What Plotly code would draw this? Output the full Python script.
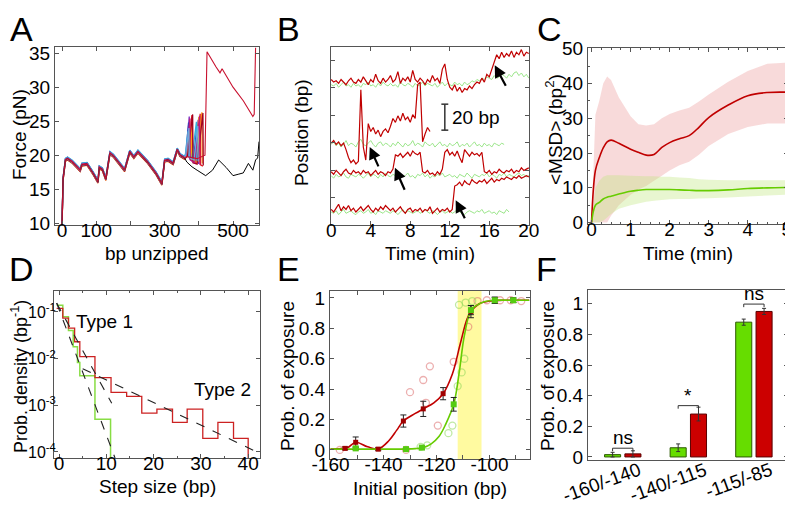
import plotly.graph_objects as go

W, H = 793, 514
OFF = 8  # the page body margin shifts the whole figure by 8 px
FONT = "Liberation Sans, Arial, sans-serif"

# ---------------- A: force-extension (unzipping) ----------------
A_BASE_X = [0, 3, 10, 16, 30, 53, 58, 73, 90, 105, 109, 118, 128, 140, 150, 170, 183, 198,
            210, 222, 250, 275, 292, 300, 310, 325, 337, 345, 358]
A_BASE_Y = [9.8, 16.5, 19.3, 19.5, 19.0, 17.8, 18.6, 18.7, 17.4, 16.1, 18.2, 17.9, 16.5, 20.3,
            19.9, 18.6, 17.8, 20.5, 19.7, 20.5, 19.0, 17.3, 15.8, 19.2, 19.3, 18.8, 20.8, 20.0, 19.6]
A_COLORS = ["#e41a1c", "#7b2cbf", "#2040c0", "#ff8c1a", "#f2c500", "#30b0e0", "#a00020",
            "#c0187a", "#6fa8dc"]
A_SHIFT = [0.15, -0.1, 0.2, -0.2, 0.05, 0.25, -0.15, 0.1, -0.05]
A_TAIL_X = [[366, 380, 381, 392, 404, 405, 412],
            [364, 372, 373, 386, 398, 399],
            [362, 370, 371, 384, 395, 396],
            [366, 378, 379, 392, 409, 410],
            [365, 376, 377, 390, 400, 401],
            [361, 368, 369, 380, 393, 394],
            [367, 382, 383, 395, 412, 413],
            [363, 374, 375, 388, 402, 403],
            [362, 371, 372, 386, 397, 398]]
A_TAIL_Y = [[20.0, 25.9, 19.2, 18.8, 26.1, 18.6, 18.4],
            [20.3, 25.7, 19.5, 18.9, 25.2, 18.7],
            [20.1, 24.8, 19.8, 19.1, 24.5, 19.0],
            [19.9, 25.0, 19.4, 19.0, 26.3, 18.8],
            [19.8, 24.2, 19.6, 19.2, 25.6, 19.0],
            [20.2, 23.5, 20.0, 19.6, 24.9, 19.2],
            [19.9, 26.0, 18.9, 18.7, 26.2, 18.5],
            [20.0, 25.4, 19.3, 18.9, 25.8, 18.6],
            [20.1, 24.0, 19.7, 19.3, 24.3, 19.1]]
A_BLACK_TAIL_X = [365, 380, 395, 420, 440, 458, 480, 500, 515, 530, 545, 558, 566, 572, 576]
A_BLACK_TAIL_Y = [19.0, 18.3, 17.8, 17.0, 17.8, 19.3, 18.2, 17.0, 17.2, 17.4, 18.8, 17.8, 19.3, 19.6, 22.0]
A_RED_TAIL_X = [365, 395, 418, 422, 424, 450, 462, 468, 500, 530, 558, 562, 566]
A_RED_TAIL_Y = [19.8, 19.5, 20.0, 34.0, 35.2, 33.0, 32.1, 32.7, 30.0, 28.0, 25.7, 26.0, 35.8]

# ---------------- B: position traces (bp), sampled every 0.25 min ----------------
B_DT = 0.25
B_RED = [
    [112, 110, 111, 109, 112, 110, 108, 111, 113, 110, 109, 112,
     110, 114, 111, 108, 112, 110, 116, 111, 109, 113, 110, 112,
     115, 110, 112, 118, 109, 113, 111, 114, 110, 119, 112, 110,
     113, 111, 108, 112, 110, 115, 111, 113, 109, 120, 124, 112,
     106, 104, 108, 103, 106, 102, 105, 104, 107, 105, 108, 110,
     109, 113, 110, 116, 114, 120, 126, 131, 128, 133, 129, 132,
     130, 134, 129, 133, 131, 135, 130, 133, 132],
    [63, 65, 62, 64, 61, 63, 58, 52, 48, 50, 47, 49,
     104, 60, 50, 78, 72, 75, 70, 73, 68, 72, 74, 71,
     76, 82, 79, 84, 80, 86, 81, 83, 79, 85, 82, 108,
     110, 64, 70, 75, 72],
    [41, 39, 42, 40, 38, 41, 43, 40, 39, 42, 40, 41,
     39, 42, 40, 41, 38, 40, 42, 39, 41, 40, 38, 41,
     40, 43, 54, 53, 55, 52, 54, 56, 53, 57, 55, 54,
     56, 41, 40, 42, 39, 40, 38, 41, 39, 43, 56, 58,
     54, 56, 53, 57, 52, 48, 58, 55, 53, 56, 54, 55,
     53, 56, 41, 40, 42, 39, 41, 40, 43, 41, 40, 42,
     41, 43, 40, 42, 41, 44, 42, 43, 44],
    [12, 10, 13, 16, 11, 14, 12, 15, 11, 13, 10, 12,
     14, 11, 13, 15, 12, 10, 13, 11, 14, 12, 15, 13,
     11, 13, 10, 12, 14, 11, 9, 12, 13, 10, 12, 11,
     13, 10, 12, 11, 14, 9, 11, 13, 10, 12, 11, 13,
     10, 12, 30, 31, 33, 30, 34, 32, 31, 35, 33, 32,
     34, 33, 35, 32, 34, 36, 33, 35, 34, 36, 35, 37,
     36, 35, 37, 36, 38, 36, 37, 38, 37],
]
B_GREEN = [
    [108, 107, 109, 106, 108, 110, 107, 108, 106, 109, 107, 108,
     106, 109, 108, 110, 107, 108, 106, 109, 107, 110, 108, 107,
     109, 107, 108, 106, 110, 108, 107, 109, 108, 106, 109, 107,
     108, 110, 107, 109, 108, 107, 109, 106, 108, 110, 107, 109,
     108, 107, 110, 108, 109, 107, 110, 108, 109, 111, 110, 112,
     111, 113, 112, 114, 113, 112, 115, 113, 114, 116, 115, 113,
     116, 114, 117, 118, 115, 117, 114, 116, 113],
    [62, 64, 61, 63, 60, 62, 65, 61, 63, 62, 60, 64,
     66, 62, 61, 63, 65, 62, 60, 63, 64, 61, 63, 62,
     60, 63, 61, 64, 62, 60, 63, 61, 62, 65, 61, 63,
     62, 60, 64, 62, 61, 63, 60, 62, 64, 61, 62, 60,
     63, 61, 62, 64, 60, 62, 61, 63, 60, 62, 64, 61,
     62, 60, 63, 61, 62, 60, 63, 62, 61, 63, 62],
    [38, 36, 39, 37, 38, 40, 37, 36, 39, 38, 37, 39,
     38, 36, 38, 40, 37, 39, 38, 36, 39, 37, 40, 38,
     37, 39, 38, 36, 39, 37, 38, 40, 37, 38, 36, 39,
     38, 40, 37, 39, 36, 38, 37, 39, 38, 40, 37, 38,
     39, 37, 38, 36, 39, 38, 37, 40, 38, 36, 39, 38,
     37, 39, 38, 40, 37, 39, 38, 36, 39, 38, 40, 37,
     39, 38, 37, 39, 40, 38, 39, 37, 38],
    [10, 9, 11, 8, 10, 12, 9, 10, 11, 9, 8, 10,
     11, 9, 10, 12, 9, 10, 8, 11, 10, 9, 11, 10,
     9, 11, 10, 8, 10, 12, 9, 11, 10, 9, 10, 11,
     9, 10, 12, 10, 9, 11, 10, 8, 10, 11, 9, 10,
     11, 9, 10, 12, 10, 9, 8, 10, 11, 10, 9, 11,
     10, 12, 9, 10, 11, 9, 10, 8, 11, 10, 9, 12,
     10],
]
# arrows: (head t, head bp, tail t, tail bp)
B_ARROWS = [(16.55, 123, 17.75, 106), (3.9, 60, 4.85, 44), (6.45, 44, 7.5, 26), (12.6, 19, 13.6, 4)]

# ---------------- C: MSD ----------------
C_T = [0, 0.1, 0.2, 0.3, 0.4, 0.5, 0.7, 1.0, 1.2, 1.4, 1.6, 1.8, 2.0, 2.25, 2.5, 2.75, 3.0, 3.5, 4.0, 4.5, 5.0]
C_RED = [0, 15, 18.7, 21.5, 23.2, 23.7, 22.8, 21.1, 20.2, 19.4, 19.6, 21.6, 23.0, 24.1, 25.0, 27.4,
         30.2, 33.8, 36.5, 37.4, 37.5]
C_RED_HI = [0, 31, 35, 40, 42, 41, 36, 30.6, 28.3, 27.9, 28.3, 30, 31.2, 32.2, 33, 34.8, 36.8, 40.5,
            43.6, 45.7, 46]
C_RED_LO = [0, 0, 0, 0, 0, 2, 5, 8, 9.5, 10.5, 12, 13.5, 15, 16.5, 17.5, 19.5, 22, 25.5, 27.5, 28.5, 28.5]
C_GREEN = [0, 5, 5.8, 6.8, 7.3, 7.6, 8.2, 9.0, 9.3, 9.5, 9.5, 9.5, 9.5, 9.4, 9.3, 9.2, 9.2, 9.4, 9.8,
           10.0, 10.1]
C_GREEN_HI = [0, 10, 12, 13.2, 13.6, 13.6, 13.6, 13.5, 13.4, 13.3, 13.3, 13.2, 13.2, 13.0, 12.8, 12.5,
              12.3, 12.2, 12.2, 12.2, 12.2]
C_GREEN_LO = [0, 0, 0, 0.5, 1.5, 2.5, 4, 5, 5.5, 6, 6.3, 6.5, 6.7, 6.8, 6.8, 6.9, 7, 7.2, 7.5, 7.8, 8]

# ---------------- D: step size histograms ----------------
D_RED_EDGES = [-0.5, 0.8, 2.0, 3.3, 4.4, 7.6, 11.0, 14.3, 17.5, 20.7, 24.0, 27.1, 30.4, 33.6, 36.9, 40.0]
D_RED = [0.12, 0.074, 0.045, 0.023, 0.011, 0.0039, 0.0019, 0.00155, 0.00068, 0.00083, 0.00043,
         0.00083, 0.000195, 0.00043, 0.000195]
D_GREEN_EDGES = [-0.5, 0.8, 2.0, 3.0, 3.9, 4.4, 7.6, 10.9]
D_GREEN = [0.14, 0.079, 0.04, 0.018, 0.0083, 0.0043, 0.0005]
D_FITS_X = [[-0.5, 11.85], [-0.5, 11.15], [5, 42.5]]
D_FITS_Y = [[0.155, 7.4e-5], [0.155, 0.0011], [0.0061, 9.3e-5]]

# ---------------- E: probability of exposure ----------------
E_RED_X = [-154.5, -150.5, -142, -132.5, -125, -117.5, -107, -98, -91]
E_RED_Y = [0.01, 0.05, 0.005, 0.19, 0.27, 0.37, 0.91, 0.985, 0.985]
E_RED_ERR = [0.01, 0.035, 0.01, 0.04, 0.05, 0.04, 0.04, 0.02, 0.015]
E_GREEN_X = [-150.5, -131.5, -125.5, -113.5, -107, -98, -91]
E_GREEN_Y = [0.01, 0.005, 0.015, 0.30, 0.92, 0.985, 0.985]
E_GREEN_ERR = [0.01, 0.005, 0.01, 0.045, 0.03, 0.02, 0.015]
E_RED_FIT_X = [-160, -156, -153.5, -150.5, -146, -142, -138, -135, -132.5, -128, -125, -121, -117.5,
               -114, -111, -108.5, -107, -104, -100, -95, -90, -85]
E_RED_FIT_Y = [0.005, 0.008, 0.015, 0.05, 0.02, 0.005, 0.06, 0.13, 0.19, 0.24, 0.27, 0.31, 0.37,
               0.5, 0.7, 0.86, 0.91, 0.96, 0.98, 0.985, 0.985, 0.985]
E_GREEN_FIT_X = [-160, -140, -128, -125, -122, -119, -116.5, -113.5, -111.5, -109.5, -107, -105,
                 -102, -98, -90, -85]
E_GREEN_FIT_Y = [0.005, 0.005, 0.008, 0.015, 0.04, 0.09, 0.17, 0.30, 0.50, 0.75, 0.92, 0.95,
                 0.975, 0.985, 0.985, 0.985]
E_RED_RAW_X = [-156.5, -131.5, -130, -125, -122.5, -124, -119.5, -113.5, -108, -104.5, -101, -96, -92, -88]
E_RED_RAW_Y = [0.0, 0.0, 0.38, 0.46, 0.55, 0.31, 0.16, 0.58, 0.81, 0.98, 0.985, 0.985, 0.985, 0.98]
E_GREEN_RAW_X = [-126, -123.5, -115.5, -114, -112, -110.5, -109.5, -111.5, -109, -106.5]
E_GREEN_RAW_Y = [0.02, 0.03, 0.11, 0.16, 0.42, 0.51, 0.60, 0.955, 0.97, 0.98]
E_BAND = [-112, -103]

# ---------------- F: grouped bars ----------------
F_CATS = ["-160/-140", "-140/-115", "-115/-85"]
F_GREEN = [0.015, 0.06, 0.88]
F_GREEN_ERR = [0.015, 0.025, 0.02]
F_RED = [0.02, 0.28, 0.95]
F_RED_ERR = [0.02, 0.045, 0.02]
F_SIG = ["ns", "*", "ns"]
F_SIG_Y = [0.057, 0.335, 0.998]

RED = "#C00000"
GREEN = "#66CC00"

fig = go.Figure()

# A
for i, col in enumerate(A_COLORS):
    fig.add_trace(go.Scatter(x=A_BASE_X + A_TAIL_X[i], y=[v + A_SHIFT[i] for v in A_BASE_Y] + A_TAIL_Y[i],
                             mode="lines", line=dict(color=col, width=1.3), xaxis="x", yaxis="y"))
fig.add_trace(go.Scatter(x=A_BASE_X + A_BLACK_TAIL_X, y=A_BASE_Y + A_BLACK_TAIL_Y, mode="lines",
                         line=dict(color="black", width=1), xaxis="x", yaxis="y"))
fig.add_trace(go.Scatter(x=A_BASE_X + A_RED_TAIL_X, y=A_BASE_Y + A_RED_TAIL_Y, mode="lines",
                         line=dict(color="#c8102e", width=1.1), xaxis="x", yaxis="y"))

# B
for g in B_GREEN:
    fig.add_trace(go.Scatter(x=[i * B_DT for i in range(len(g))], y=g, mode="lines",
                             line=dict(color="#9BE68A", width=1), xaxis="x2", yaxis="y2"))
for r in B_RED:
    fig.add_trace(go.Scatter(x=[i * B_DT for i in range(len(r))], y=r, mode="lines",
                             line=dict(color=RED, width=1.2), xaxis="x2", yaxis="y2"))

# C
fig.add_trace(go.Scatter(x=C_T + C_T[::-1], y=C_RED_HI + C_RED_LO[::-1], fill="toself", mode="none",
                         fillcolor="rgba(235,150,150,0.35)", xaxis="x3", yaxis="y3"))
fig.add_trace(go.Scatter(x=C_T + C_T[::-1], y=C_GREEN_HI + C_GREEN_LO[::-1], fill="toself", mode="none",
                         fillcolor="rgba(190,230,120,0.35)", xaxis="x3", yaxis="y3"))
fig.add_trace(go.Scatter(x=C_T, y=C_RED, mode="lines", line=dict(color=RED, width=1.6, shape="spline"),
                         xaxis="x3", yaxis="y3"))
fig.add_trace(go.Scatter(x=C_T, y=C_GREEN, mode="lines", line=dict(color=GREEN, width=1.6, shape="spline"),
                         xaxis="x3", yaxis="y3"))

# D
fig.add_trace(go.Scatter(x=D_GREEN_EDGES + [D_GREEN_EDGES[-1]], y=D_GREEN + [D_GREEN[-1], 1e-5],
                         mode="lines", line=dict(color="#88DD44", width=1.5, shape="hv"),
                         xaxis="x4", yaxis="y4"))
fig.add_trace(go.Scatter(x=D_RED_EDGES + [D_RED_EDGES[-1]], y=D_RED + [D_RED[-1], 1e-5],
                         mode="lines", line=dict(color="#CC2222", width=1.3, shape="hv"),
                         xaxis="x4", yaxis="y4"))
for fx, fy in zip(D_FITS_X, D_FITS_Y):
    fig.add_trace(go.Scatter(x=fx, y=fy, mode="lines", line=dict(color="#222", width=1.1, dash="dash"),
                             xaxis="x4", yaxis="y4"))

# E
fig.add_trace(go.Scatter(x=E_RED_RAW_X, y=E_RED_RAW_Y, mode="markers",
                         marker=dict(symbol="circle-open", size=7, color="rgba(220,110,110,0.55)",
                                     line=dict(width=1.3)), xaxis="x5", yaxis="y5"))
fig.add_trace(go.Scatter(x=E_GREEN_RAW_X, y=E_GREEN_RAW_Y, mode="markers",
                         marker=dict(symbol="circle-open", size=7, color="rgba(140,215,90,0.55)",
                                     line=dict(width=1.3)), xaxis="x5", yaxis="y5"))
fig.add_trace(go.Scatter(x=E_RED_FIT_X, y=E_RED_FIT_Y, mode="lines",
                         line=dict(color=RED, width=1.6, shape="spline"), xaxis="x5", yaxis="y5"))
fig.add_trace(go.Scatter(x=E_GREEN_FIT_X, y=E_GREEN_FIT_Y, mode="lines",
                         line=dict(color=GREEN, width=1.6, shape="spline"), xaxis="x5", yaxis="y5"))
fig.add_trace(go.Scatter(x=E_RED_X, y=E_RED_Y, mode="markers",
                         marker=dict(symbol="square", size=5, color="#A00000"),
                         error_y=dict(type="data", array=E_RED_ERR, color="#222", thickness=1, width=3),
                         xaxis="x5", yaxis="y5"))
fig.add_trace(go.Scatter(x=E_GREEN_X, y=E_GREEN_Y, mode="markers",
                         marker=dict(symbol="square", size=6, color="#55CC11"),
                         error_y=dict(type="data", array=E_GREEN_ERR, color="#222", thickness=1, width=3),
                         xaxis="x5", yaxis="y5"))

# F
fig.add_trace(go.Bar(x=F_CATS, y=F_GREEN, marker=dict(color="#66DD00", line=dict(color="#2d5a00", width=1)),
                     error_y=dict(type="data", array=F_GREEN_ERR, color="#333", thickness=1, width=2),
                     xaxis="x6", yaxis="y6"))
fig.add_trace(go.Bar(x=F_CATS, y=F_RED, marker=dict(color="#CC0000", line=dict(color="#5a0000", width=1)),
                     error_y=dict(type="data", array=F_RED_ERR, color="#333", thickness=1, width=2),
                     xaxis="x6", yaxis="y6"))


def xd(a, b):
    return [(a - OFF) / W, (b - OFF) / W]


def yd(top, bottom):
    return [1 - (bottom - OFF) / H, 1 - (top - OFF) / H]


def axis(domain, rng, anchor, **kw):
    d = dict(domain=domain, range=rng, anchor=anchor, showline=True, mirror="ticks", linecolor="#555",
             linewidth=1, ticks="inside", ticklen=4, tickcolor="#555", showgrid=False, zeroline=False,
             automargin=False, tickfont=dict(size=19, family=FONT, color="black"))
    d.update(kw)
    return d


XS = -12  # pull x tick labels up to the frame

layout = dict(
    width=W, height=H, margin=dict(l=0, r=0, t=0, b=0, autoexpand=False), showlegend=False,
    paper_bgcolor="white", plot_bgcolor="rgba(0,0,0,0)",
    font=dict(family=FONT, size=19, color="black"),
    barmode="group", bargap=0.38, bargroupgap=0.21,
    xaxis=axis(xd(55, 259), [-20.6, 576], "y", tickvals=[0, 100, 200, 300, 400, 500],
               ticktext=["0", "100", "", "300", "", "500"], ticklabelstandoff=XS),
    yaxis=axis(yd(47, 225), [9.75, 35.9], "x", tickvals=[10, 15, 20, 25, 30, 35]),
    xaxis2=axis(xd(331, 529), [-0.02, 20.02], "y2", tickvals=[0, 4, 8, 12, 16, 20], ticklabelstandoff=XS),
    yaxis2=axis(yd(47, 225), [0, 137], "x2", tickvals=[20.8, 42, 63.2, 84.4, 105.6, 126.8],
                showticklabels=False),
    xaxis3=axis(xd(588, 788), [-0.09, 5.03], "y3", tickvals=[0, 1, 2, 3, 4, 5], ticklabelstandoff=XS,
                minor=dict(ticks="inside", ticklen=2, dtick=0.25, tickcolor="#555")),
    yaxis3=axis(yd(48, 224), [-0.4, 50.2], "x3", tickvals=[0, 10, 20, 30, 40, 50],
                minor=dict(ticks="inside", ticklen=2, dtick=5, tickcolor="#555")),
    xaxis4=axis(xd(54, 260), [-1.06, 42.5], "y4", tickvals=[0, 10, 20, 30, 40], ticklabelstandoff=XS,
                minor=dict(ticks="inside", ticklen=2, dtick=5, tickcolor="#555")),
    yaxis4=axis(yd(291, 458), [-4.13, -0.55], "x4", type="log", tickvals=[1e-4, 1e-3, 1e-2, 1e-1],
                ticktext=["10<sup>-4</sup>", "10<sup>-3</sup>", "10<sup>-2</sup>", "10<sup>-1</sup>"],
                tickfont=dict(size=16, family=FONT, color="black"), ticklabelstandoff=-6),
    xaxis5=axis(xd(330, 530), [-160.2, -84.7], "y5", tickvals=[-160, -150, -140, -130, -120, -110, -100, -90],
                ticktext=["-160", "", "-140", "", "-120", "", "-100", ""], ticklabelstandoff=XS),
    yaxis5=axis(yd(291, 459), [-0.06, 1.046], "x5", tickvals=[0, 0.2, 0.4, 0.6, 0.8, 1],
                ticktext=["0", "0.2", "0.4", "0.6", "0.8", "1"]),
    xaxis6=axis(xd(588, 788), [-0.53, 2.52], "y6", type="category", ticks="", showticklabels=False),
    yaxis6=axis(yd(290, 460), [-0.02, 1.09], "x6", tickvals=[0, 0.2, 0.4, 0.6, 0.8, 1],
                ticktext=["0", "0.2", "0.4", "0.6", "0.8", "1"]),
)

ann = []
shapes = []


def paper_text(text, px, py, size=19, angle=0, **kw):
    d = dict(text=text, x=(px - OFF) / W, y=1 - (py - OFF) / H, xref="paper", yref="paper",
             showarrow=False, textangle=angle, font=dict(size=size, family=FONT, color="black"),
             xanchor="center", yanchor="middle")
    d.update(kw)
    ann.append(d)


# panel letters (top row anchored at the top edge of the figure)
for letter, px in [("A", 21), ("B", 288), ("C", 549)]:
    paper_text(letter, px, OFF, size=34, yanchor="top")
for letter, px in [("D", 21), ("E", 288), ("F", 546)]:
    paper_text(letter, px, 269, size=34)

# axis titles
paper_text("Force (pN)", 19, 135, angle=-90)
paper_text("bp unzipped", 157, 253)
paper_text("Position (bp)", 301, 133, angle=-90)
paper_text("Time (min)", 430, 253)
paper_text("&lt;MSD&gt; (bp<sup>2</sup>)", 554, 130, angle=-90)
paper_text("Time (min)", 688, 253)
paper_text("Prob. density (bp<sup>-1</sup>)", 19, 377, angle=-90, size=18)
paper_text("Step size (bp)", 157, 486)
paper_text("Prob. of exposure", 287, 376, angle=-90)
paper_text("Initial position (bp)", 430, 488)
paper_text("Prob. of exposure", 547, 376, angle=-90)

# B arrows & scale bar
for hx, hy, tx, ty in B_ARROWS:
    ann.append(dict(x=hx, y=hy, ax=tx, ay=ty, xref="x2", yref="y2", axref="x2", ayref="y2", text="",
                    showarrow=True, arrowhead=2, arrowsize=1.1, arrowwidth=2.2, arrowcolor="black"))
shapes.append(dict(type="line", xref="x2", yref="y2", x0=11.5, x1=11.5, y0=73, y1=93,
                   line=dict(color="#333", width=1.5)))
for yy in (73, 93):
    shapes.append(dict(type="line", xref="x2", yref="y2", x0=11.15, x1=11.85, y0=yy, y1=yy,
                       line=dict(color="#333", width=1.5)))
ann.append(dict(x=12.0, y=83, xref="x2", yref="y2", text="20 bp", showarrow=False, xanchor="left",
                font=dict(size=19, family=FONT, color="black")))

# D labels
ann.append(dict(x=9.7, y=-1.21, xref="x4", yref="y4", text="Type 1", showarrow=False,
                font=dict(size=19, family=FONT, color="black")))
ann.append(dict(x=34.5, y=-2.67, xref="x4", yref="y4", text="Type 2", showarrow=False,
                font=dict(size=19, family=FONT, color="black")))

# E band
shapes.append(dict(type="rect", xref="x5", yref="y5 domain", x0=E_BAND[0], x1=E_BAND[1], y0=0, y1=1,
                   fillcolor="rgb(255,250,160)", line=dict(width=0), layer="below"))

# F category labels & significance brackets
BAR_OFF = 0.155
for i, cat in enumerate(F_CATS):
    ann.append(dict(x=i, y=1 - (456 - OFF) / H, xref="x6", yref="paper", text=cat, showarrow=False,
                    textangle=-20, xanchor="right", yanchor="top", xshift=23,
                    font=dict(size=19, family=FONT, color="black")))
    y0 = F_SIG_Y[i]
    shapes.append(dict(type="path", xref="x6", yref="y6",
                       path=f"M {i - BAR_OFF},{y0 - 0.02} L {i - BAR_OFF},{y0} L {i + BAR_OFF},{y0} "
                            f"L {i + BAR_OFF},{y0 - 0.02}",
                       line=dict(color="#333", width=1)))
    ann.append(dict(x=i, y=y0, xref="x6", yref="y6", text=F_SIG[i], showarrow=False, yanchor="bottom",
                    yshift=-2, font=dict(size=19, family=FONT, color="black")))

layout["annotations"] = ann
layout["shapes"] = shapes
fig.update_layout(**layout)

fig.write_html("out.html")
